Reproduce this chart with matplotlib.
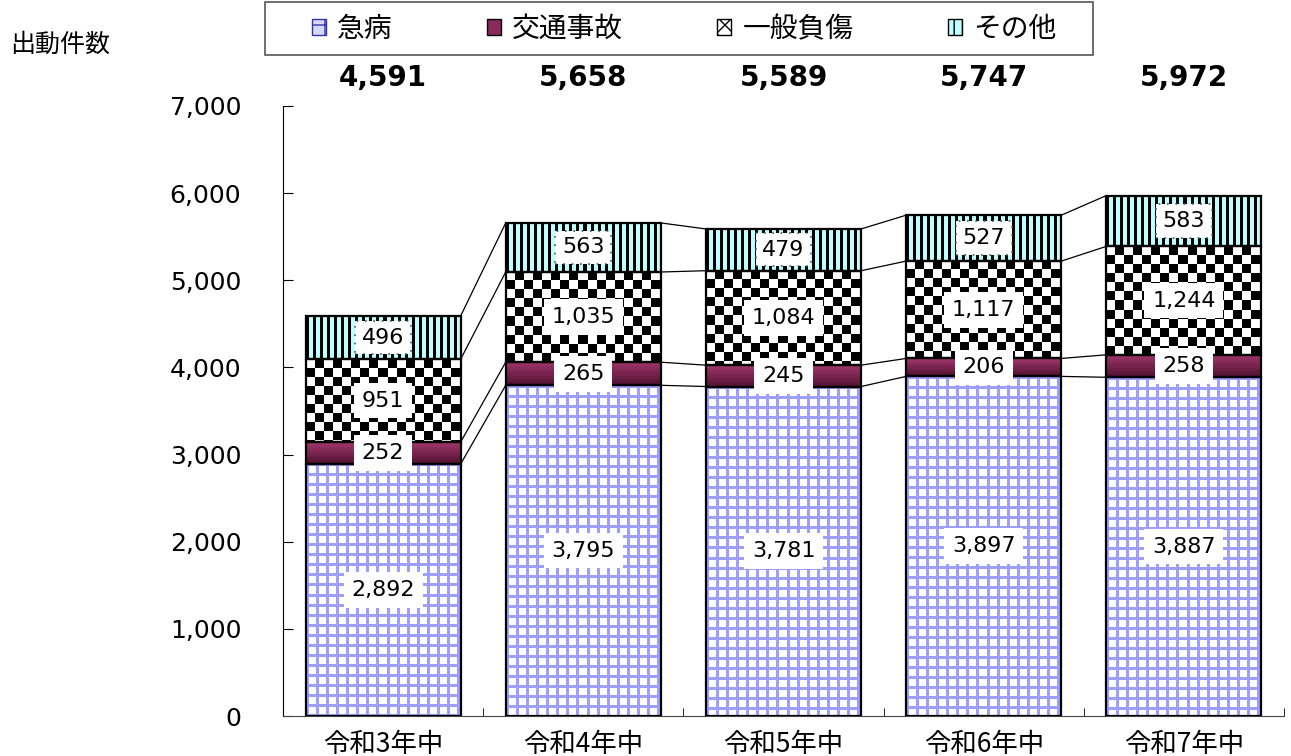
import matplotlib
import matplotlib.pyplot as plt
import numpy as np
from matplotlib.patches import Patch, Rectangle
from matplotlib.transforms import blended_transform_factory

matplotlib.use("Agg")

plt.rcParams["font.family"] = ["DejaVu Sans", "Noto Sans CJK JP"]

categories = ["令和3年中", "令和4年中", "令和5年中", "令和6年中", "令和7年中"]
series_names = ["急病", "交通事故", "一般負傷", "その他"]
kyubyo = [2892, 3795, 3781, 3897, 3887]
kotsu = [252, 265, 245, 206, 258]
ippan = [951, 1035, 1084, 1117, 1244]
sonota = [496, 563, 479, 527, 583]
totals = [4591, 5658, 5589, 5747, 5972]
yticks = [0, 1000, 2000, 3000, 4000, 5000, 6000, 7000]

series = [kyubyo, kotsu, ippan, sonota]
bar_w = 0.775
jp = ["Noto Sans CJK JP", "DejaVu Sans"]

fig = plt.figure(figsize=(12.91, 7.56), dpi=100)
ax = fig.add_axes([283 / 1291, 40 / 756, 1001 / 1291, 610 / 756])
ax.set_xlim(-0.5, 4.5)
ax.set_ylim(0, 7000)


# pattern fills, computed in pixel space so they look like the original
def grid_pat(h, w):
    img = np.ones((h, w, 3))
    yy, xx = np.mgrid[0:h, 0:w]
    line = ((xx % 10) < 3) | ((yy % 10) < 3)
    img[line] = (0.62, 0.62, 1.0)
    return img


def gradient_pat(h, w):
    t = np.linspace(0, 1, h)[:, None, None]
    top = np.array([0.63, 0.22, 0.43])
    bot = np.array([0.32, 0.07, 0.19])
    return np.broadcast_to(top * (1 - t) + bot * t, (h, w, 3)).copy()


def checker_pat(h, w):
    yy, xx = np.mgrid[0:h, 0:w]
    c = ((xx // 9) + (yy // 9)) % 2
    img = np.ones((h, w, 3))
    img[c == 1] = 0.0
    return img


def stripe_pat(h, w):
    xx = np.arange(w)[None, :].repeat(h, 0)
    img = np.ones((h, w, 3)) * np.array([0.75, 1.0, 1.0])
    img[(xx % 7) < 3] = 0.0
    return img


patterns = [grid_pat, gradient_pat, checker_pat, stripe_pat]

x = np.arange(len(categories))
bottoms = np.zeros(len(categories))
tops_per_series = []
for vals, pat in zip(series, patterns):
    vals = np.array(vals, dtype=float)
    bars = ax.bar(x, vals, bar_w, bottom=bottoms, facecolor="none",
                  edgecolor="black", linewidth=1.6, zorder=3)
    for b in bars:
        x0, y0 = b.get_x(), b.get_y()
        x1, y1 = x0 + b.get_width(), y0 + b.get_height()
        p0 = ax.transData.transform((x0, y0))
        p1 = ax.transData.transform((x1, y1))
        w = max(int(round(p1[0] - p0[0])), 1)
        h = max(int(round(p1[1] - p0[1])), 1)
        ax.imshow(pat(h, w), extent=(x0, x1, y0, y1), aspect="auto",
                  interpolation="nearest", zorder=2)
    bottoms = bottoms + vals
    tops_per_series.append(bottoms.copy())

ax.set_xlim(-0.5, 4.5)
ax.set_ylim(0, 7000)

# connector lines between bars
for tops in tops_per_series:
    for i in range(len(categories) - 1):
        ax.plot([x[i] + bar_w / 2, x[i + 1] - bar_w / 2], [tops[i], tops[i + 1]],
                color="black", linewidth=0.9, zorder=1)

# segment labels
bottoms = np.zeros(len(categories))
for k, vals in enumerate(series):
    for i, v in enumerate(vals):
        box = dict(boxstyle="square,pad=0.35", fc="white", ec="none")
        if k == 3:
            box = dict(boxstyle="square,pad=0.3", fc="white", ec="#555555",
                       linestyle=(0, (1, 4)), linewidth=1.2)
        ax.text(x[i], bottoms[i] + v / 2, f"{v:,}", ha="center", va="center",
                fontsize=16, bbox=box, zorder=5)
    bottoms = bottoms + np.array(vals)

# totals above the plot
tr = blended_transform_factory(ax.transData, ax.transAxes)
for i, t in enumerate(totals):
    ax.text(x[i], 1.046, f"{t:,}", transform=tr, ha="center", va="center",
            fontsize=20, fontweight="bold", clip_on=False)

ax.spines["top"].set_visible(False)
ax.spines["right"].set_visible(False)
ax.spines["bottom"].set_color("#444444")
ax.set_yticks(yticks)
ax.set_yticklabels([f"{v:,}" for v in yticks], fontsize=18)
ax.tick_params(axis="y", direction="in", length=7, pad=30)
ax.set_xticks(x)
ax.set_xticklabels(categories, fontsize=19, family=jp)
ax.set_xticks(x + 0.5, minor=True)
ax.tick_params(axis="x", which="major", length=0, pad=11)
ax.tick_params(axis="x", which="minor", direction="in", length=6)

fig.text(10 / 1291, 1 - 45 / 756, "出動件数", fontsize=18, va="center",
         ha="left", family=jp)

# legend frame is wider than its content in the original
fig.patches.append(Rectangle((265 / 1291, 1 - 55 / 756), 828 / 1291, 53 / 756,
                             transform=fig.transFigure, fill=False,
                             edgecolor="#555555", linewidth=1.2))
handles = [
    Patch(facecolor="#d8d8ff", edgecolor="#3333aa", hatch="+"),
    Patch(facecolor="#8a2a5a", edgecolor="black"),
    Patch(facecolor="white", edgecolor="black", hatch="xx"),
    Patch(facecolor="#c0ffff", edgecolor="black", hatch="||"),
]
leg = fig.legend(handles, series_names, loc="center", ncol=4,
                 bbox_to_anchor=(684 / 1291, 1 - 29 / 756),
                 prop={"family": jp, "size": 20}, frameon=False,
                 handlelength=0.5, handleheight=0.5, handletextpad=0.4,
                 columnspacing=3.4)

fig.savefig("out.png", dpi=100)
